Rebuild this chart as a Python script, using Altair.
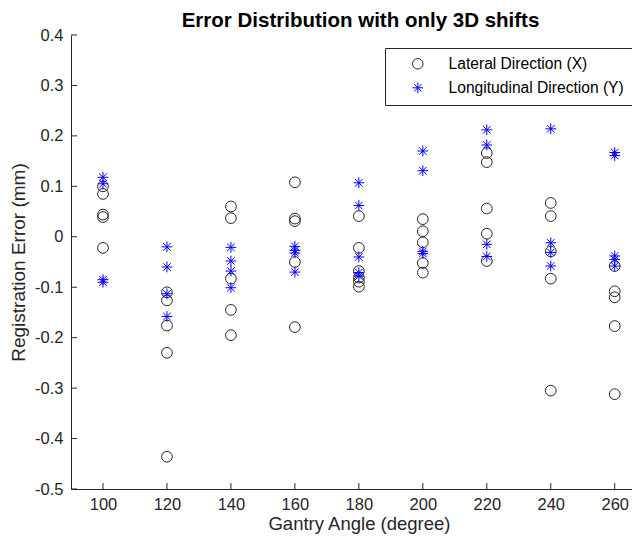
import altair as alt
import pandas as pd

angles = [100, 120, 140, 160, 180, 200, 220, 240, 260]

lateral = [
    [0.100, 0.085, 0.044, 0.039, -0.022],
    [-0.110, -0.126, -0.176, -0.230, -0.436],
    [0.060, 0.037, -0.083, -0.145, -0.195],
    [0.108, 0.036, 0.031, -0.050, -0.179],
    [0.041, -0.022, -0.068, -0.081, -0.089, -0.099],
    [0.035, 0.011, -0.011, -0.052, -0.071],
    [0.166, 0.148, 0.056, 0.006, -0.048],
    [0.067, 0.041, -0.029, -0.083, -0.305],
    [-0.058, -0.108, -0.120, -0.177, -0.312],
]

longitudinal = [
    [0.118, 0.105, -0.085, -0.090],
    [-0.020, -0.060, -0.113, -0.158],
    [-0.021, -0.048, -0.068, -0.101],
    [-0.019, -0.027, -0.032, -0.070],
    [0.107, 0.062, -0.040, -0.071, -0.078],
    [0.170, 0.131, -0.029, -0.033],
    [0.212, 0.182, -0.015, -0.039],
    [0.214, -0.012, -0.031, -0.058],
    [0.167, 0.161, -0.038, -0.045, -0.058],
]

series_names = ["Lateral Direction (X)", "Longitudinal Direction (Y)"]
x_ticks = [100, 120, 140, 160, 180, 200, 220, 240, 260]
y_ticks = [-0.5, -0.4, -0.3, -0.2, -0.1, 0.0, 0.1, 0.2, 0.3, 0.4]

rows = []
for a, vals in zip(angles, lateral):
    for v in vals:
        rows.append({"angle": a, "err": v, "series": series_names[0], "ord": 0})
for a, vals in zip(angles, longitudinal):
    for v in vals:
        rows.append({"angle": a, "err": v, "series": series_names[1], "ord": 1})
df = pd.DataFrame(rows)

FONT = "Liberation Sans"
AX = "#262626"
W, H = 561, 454

xscale = alt.Scale(domain=[90, 265.4], nice=False, zero=False)
yscale = alt.Scale(domain=[-0.5, 0.4], nice=False, zero=False)

asterisk = "M-1,0L1,0M0,-1L0,1M-0.7,-0.7L0.7,0.7M-0.7,0.7L0.7,-0.7"

legend = alt.Legend(title=None, orient="none", legendX=314, legendY=13,
                    strokeColor=AX, fillColor="white", padding=8,
                    symbolOffset=17, labelOffset=23, rowPadding=7,
                    labelFontSize=15.6, labelFont=FONT, labelColor="black",
                    symbolSize=110, symbolStrokeWidth=1, symbolFillColor="transparent",
                    labelLimit=300)

points = alt.Chart(df).mark_point(filled=False, strokeWidth=1, opacity=1, size=115).encode(
    x=alt.X("angle:Q", scale=xscale,
            axis=alt.Axis(values=x_ticks, title="Gantry Angle (degree)", ticks=False,
                          grid=False, labelPadding=7, titlePadding=2, format="d",
                          titleX=288, titleFontSize=18.5)),
    y=alt.Y("err:Q", scale=yscale,
            axis=alt.Axis(values=y_ticks, title="Registration Error (mm)", ticks=False,
                          grid=False, labelPadding=8, titlePadding=6,
                          labelExpr="datum.value == 0 ? '0' : toString(round(datum.value*10)/10)")),
    shape=alt.Shape("series:N", scale=alt.Scale(domain=series_names, range=["circle", asterisk]),
                    legend=legend),
    color=alt.Color("series:N", scale=alt.Scale(domain=series_names, range=["#262626", "#0000ff"]),
                    legend=legend),
    order=alt.Order("ord:Q"),
)

ytick_df = pd.DataFrame({"v": y_ticks})
xtick_df = pd.DataFrame({"a": x_ticks})

yticks_layer = alt.Chart(ytick_df).mark_rule(color=AX, strokeWidth=1).encode(
    y=alt.Y("v:Q", scale=yscale), x=alt.value(0), x2=alt.value(6))
xticks_layer = alt.Chart(xtick_df).mark_rule(color=AX, strokeWidth=1).encode(
    x=alt.X("a:Q", scale=xscale), y=alt.value(H), y2=alt.value(H - 6))

chart = alt.layer(yticks_layer, xticks_layer, points).properties(
    width=W, height=H,
    title=alt.TitleParams("Error Distribution with only 3D shifts", font=FONT, fontSize=20.5,
                          fontWeight="bold", color="black", anchor="middle", offset=-4, dx=9),
    padding={"left": 63, "top": 27, "right": 0, "bottom": 48},
    autosize=alt.AutoSizeParams(type="none"),
).configure_view(stroke=None).configure_axis(
    domainColor=AX, labelColor=AX, titleColor=AX, labelFont=FONT, titleFont=FONT,
    labelFontSize=16.5, titleFontSize=19, titleFontWeight="normal", domainWidth=1,
)

chart.save("out.html", embed_options={"renderer": "svg", "actions": False})
